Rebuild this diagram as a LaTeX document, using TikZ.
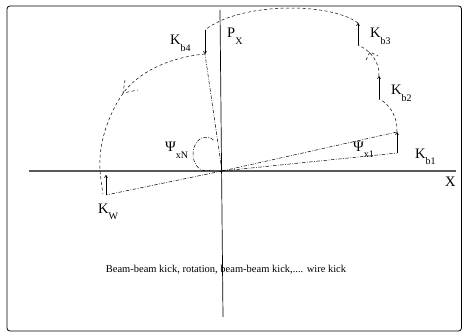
\documentclass[tikz,border=0pt]{standalone}
\usepackage{fontspec}
\setmainfont{Liberation Serif}
\usetikzlibrary{arrows.meta}
\newcommand{\labsub}[2]{#1\raisebox{-6.5pt}{\fontsize{10}{10}\selectfont #2}}
\begin{document}
\begin{tikzpicture}[x=1pt,y=-1pt,
  dsh/.style={line width=0.5pt, dash pattern=on 3pt off 2.5pt},
  dd/.style={line width=0.5pt, dash pattern=on 3.5pt off 1.5pt on 0.8pt off 1.5pt},
  kick/.style={line width=0.6pt, -{To[length=3pt,width=3.5pt]}},
  lab/.style={inner sep=0, anchor=base west, font=\fontsize{14.5}{14.5}\selectfont},
  note/.style={inner sep=0, anchor=base, font=\fontsize{10.5}{11}\selectfont}]
\useasboundingbox (0,0) rectangle (463,334);
\draw[rounded corners=3pt, line width=0.8pt] (7,6) rectangle (461.5,331);
% axes
\coordinate (O) at (222,171);
\coordinate (xl) at (29,171);
\coordinate (xr) at (456,171);
\coordinate (yt) at (220,10);
\coordinate (yb) at (223,317);
\draw[gray!70!black, line width=1.2pt] (xl) -- (xr);
\draw[line width=0.7pt] (yt) -- (yb);
% kick points
\coordinate (b1s) at (397,153);
\coordinate (b1e) at (397,132);
\coordinate (b2s) at (379,99);
\coordinate (b2e) at (379,76);
\coordinate (b3s) at (358,45);
\coordinate (b3e) at (358,23);
\coordinate (b4s) at (205,30);
\coordinate (b4e) at (205,54);
\coordinate (kws) at (106,195);
\coordinate (kwe) at (106,175);
\coordinate (m1) at (124,92);
\coordinate (m2) at (100,171);
\coordinate (m3) at (103,194);
% kicks
\draw[kick] (b1s) -- (b1e);
\draw[kick] (b2s) -- (b2e);
\draw[kick] (b3s) -- (b3e);
\draw[kick] (b4s) -- (b4e);
\draw[kick] (kws) -- (kwe);
% rotations (dashed)
\draw[dsh] (b1e) .. controls (398,118) and (390,104) .. (b2s);
\draw[dsh] (b2e) .. controls (380,62) and (370,50) .. (b3s);
\draw[dsh] (b3e) .. controls (330,2) and (240,2) .. (b4s);
\draw[dsh] (b4e) .. controls (165,58) and (138,74) .. (m1)
   .. controls (108,114) and (98,145) .. (m2)
   .. controls (101,180) and (102,188) .. (m3);
% dashed arrow marks
\coordinate (t1) at (370,52);
\draw[dsh] (366,60) -- (t1) -- (378,56);
\coordinate (t2) at (123,93);
\draw[dsh] (125,80) -- (t2) -- (138,90);
% dash-dot rays
\draw[dd] (O) -- (b1e);
\draw[dd] (O) -- (b1s);
\draw[dd] (O) -- (b4e);
\draw[dd] (O) -- (kws);
% angle psi_xN
\coordinate (pc) at (206,154);
\draw[dd] (pc) ++(-55:13 and 17) arc[start angle=-55, end angle=-290, x radius=13, y radius=17];
% labels
\node[lab] (lb4) at (170,45) {\labsub{K}{b4}};
\node[lab] (lpx) at (227,38) {\labsub{P}{X}};
\node[lab] (lb3) at (370,38) {\labsub{K}{b3}};
\node[lab] (lb2) at (391,95) {\labsub{K}{b2}};
\node[lab] (lb1) at (415,158) {\labsub{K}{b1}};
\node[lab] (lx) at (445,186) {X};
\node[lab] (lkw) at (98,213) {\labsub{K}{W}};
\node[lab] (lpn) at (165,152) {\labsub{Ψ}{xN}};
\node[lab] (lp1) at (353,151) {\labsub{Ψ}{x1}};
\node[note] (cap) at (226,272) {Beam-beam kick, rotation, beam-beam kick,.... wire kick};
\end{tikzpicture}
\end{document}
